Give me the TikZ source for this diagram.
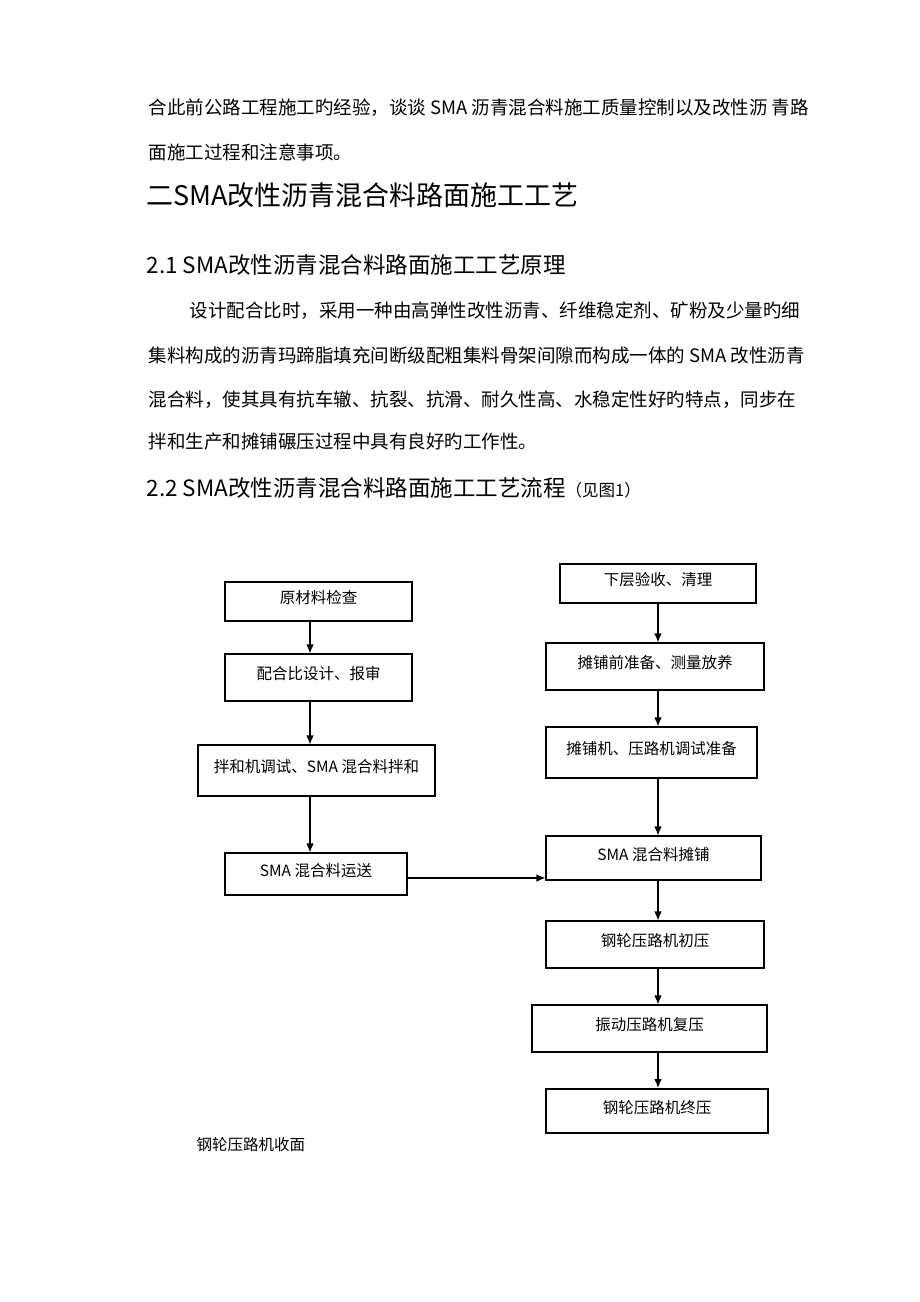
\documentclass[tikz,border=0pt]{standalone}
\usepackage{fontspec}
\setmainfont{Noto Sans CJK SC}
\usetikzlibrary{arrows.meta}
\newcommand{\txtbody}{\fontsize{18.5}{22}\selectfont}
\newcommand{\txthead}{\fontsize{27}{30}\selectfont}
\newcommand{\txtsub}{\fontsize{22.5}{26}\selectfont}
\newcommand{\txtbox}{\fontsize{15.5}{18}\selectfont}

\begin{document}
\begin{tikzpicture}[x=1pt, y=-1pt,
		stage/.style={draw, line width=1.1pt, inner sep=0pt, text depth=9pt, font=\txtbox},
		flow/.style={-{Latex[length=9pt, width=7.5pt]}, line width=1.1pt}]

		\useasboundingbox[fill=white] (0,0) rectangle (920,1302);

		% page text
		\node[anchor=west, font=\txtbody] (p1) at (145,108) {合此前公路工程施工旳经验，谈谈 SMA 沥青混合料施工质量控制以及改性沥 青路};
		\node[anchor=west, font=\txtbody] (p2) at (145,152) {面施工过程和注意事项。};
		\node[anchor=west, font=\txthead] (h2) at (143,195) {二SMA改性沥青混合料路面施工工艺};
		\node[anchor=west, font=\txtsub] (h21) at (143,265) {2.1 SMA改性沥青混合料路面施工工艺原理};
		\node[anchor=west, font=\txtbody] (p3) at (186,311) {设计配合比时，采用一种由高弹性改性沥青、纤维稳定剂、矿粉及少量旳细};
		\node[anchor=west, font=\txtbody] (p4) at (145,355) {集料构成的沥青玛蹄脂填充间断级配粗集料骨架间隙而构成一体的 SMA 改性沥青};
		\node[anchor=west, font=\txtbody] (p5) at (145,400) {混合料，使其具有抗车辙、抗裂、抗滑、耐久性高、水稳定性好旳特点，同步在};
		\node[anchor=west, font=\txtbody] (p6) at (145,441) {拌和生产和摊铺碾压过程中具有良好旳工作性。};
		\node[anchor=west, font=\txtsub] (h22) at (143,488) {2.2 SMA改性沥青混合料路面施工工艺流程{\fontsize{16.5}{20}\selectfont（见图1）}};

		% left column
		\node[stage, minimum width=187pt, minimum height=39pt] (l1) at (318.5,601.5) {原材料检查};
		\node[stage, minimum width=187pt, minimum height=47pt] (l2) at (318.5,677.5) {配合比设计、报审};
		\node[stage, minimum width=237pt, minimum height=51pt] (l3) at (316.5,770.5) {拌和机调试、SMA 混合料拌和};
		\node[stage, minimum width=182pt, minimum height=42pt] (l4) at (316,874) {SMA 混合料运送};

		% right column
		\node[stage, minimum width=196pt, minimum height=39pt] (r1) at (658,583.5) {下层验收、清理};
		\node[stage, minimum width=218pt, minimum height=47pt] (r2) at (655,666.5) {摊铺前准备、测量放养};
		\node[stage, minimum width=211pt, minimum height=51pt] (r3) at (651.5,752.5) {摊铺机、压路机调试准备};
		\node[stage, minimum width=215pt, minimum height=44pt] (r4) at (653.5,858) {SMA 混合料摊铺};
		\node[stage, minimum width=218pt, minimum height=47pt] (r5) at (655,944.5) {钢轮压路机初压};
		\node[stage, minimum width=235pt, minimum height=47pt] (r6) at (649.5,1028.5) {振动压路机复压};
		\node[stage, line width=2pt, minimum width=222pt, minimum height=44pt] (r7) at (657,1111) {钢轮压路机终压};

		\node[anchor=west, font=\txtbox] (cap) at (193,1145) {钢轮压路机收面};

		% arrow lines
		\coordinate (xl) at (310,0);
		\coordinate (xr) at (658,0);
		\coordinate (ym) at (0,878);
		\draw[flow] (l1.south -| xl) -- (l2.north -| xl);
		\draw[flow] (l2.south -| xl) -- (l3.north -| xl);
		\draw[flow] (l3.south -| xl) -- (l4.north -| xl);
		\draw[flow] (r1.south -| xr) -- (r2.north -| xr);
		\draw[flow] (r2.south -| xr) -- (r3.north -| xr);
		\draw[flow] (r3.south -| xr) -- (r4.north -| xr);
		\draw[flow] (r4.south -| xr) -- (r5.north -| xr);
		\draw[flow] (r5.south -| xr) -- (r6.north -| xr);
		\draw[flow] (r6.south -| xr) -- (r7.north -| xr);
		\draw[flow] (l4.east |- ym) -- (r4.west |- ym);

\end{tikzpicture}
\end{document}
